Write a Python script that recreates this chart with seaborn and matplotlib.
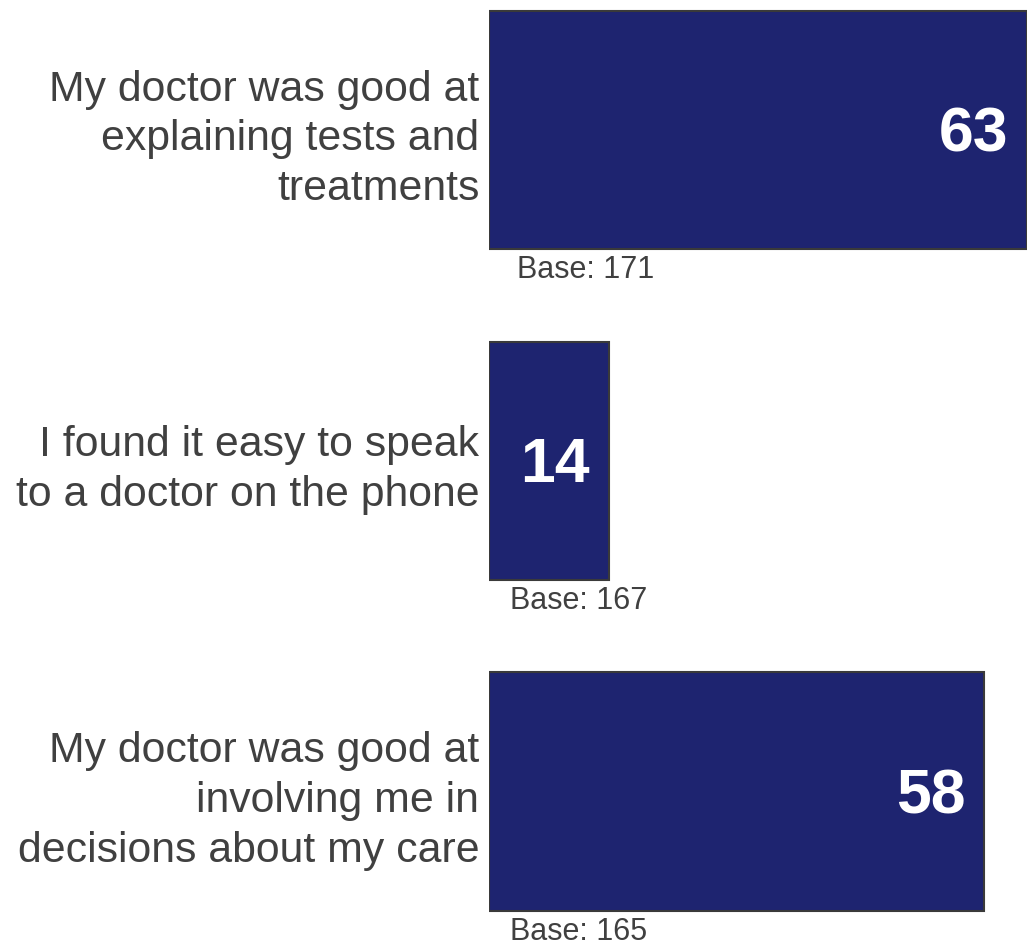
import matplotlib
matplotlib.use("Agg")
import matplotlib.pyplot as plt
import seaborn as sns
import pandas as pd

categories = [
    "My doctor was good at\nexplaining tests and\ntreatments",
    "I found it easy to speak\nto a doctor on the phone",
    "My doctor was good at\ninvolving me in\ndecisions about my care",
]
values = [63, 14, 58]
bases = ["Base: 171", "Base: 167", "Base: 165"]

sns.set_style("white")
plt.rcParams["font.family"] = ["Liberation Sans", "DejaVu Sans"]

df = pd.DataFrame({"category": categories, "value": values})

fig = plt.figure(figsize=(10.29, 9.46), dpi=100)
ax = fig.add_axes([489 / 1029, 0, (1027 - 489) / 1029, 1])

sns.barplot(data=df, y="category", x="value", orient="h", color="#1e2470",
            saturation=1, edgecolor="#3a3a3a", linewidth=1.5, width=0.72, ax=ax)

ax.set_xlim(0, 63)
ax.set_ylim(2.467, -0.393)
ax.set_xlabel("")
ax.set_ylabel("")
ax.set_xticks([])
for s in ax.spines.values():
    s.set_visible(False)
ax.tick_params(axis="y", length=0, pad=7)
for lab in ax.get_yticklabels():
    lab.set_fontsize(30.8)
    lab.set_color("#404040")
    lab.set_linespacing(1.32)

base_dx = [28, 21, 21]
for i, (v, b) in enumerate(zip(values, bases)):
    ax.annotate(str(v), xy=(v, i), xytext=(-19, -5), textcoords="offset pixels",
                ha="right", va="center", fontsize=45, fontweight="bold", color="white")
    ax.annotate(b, xy=(0, i + 0.36), xytext=(base_dx[i], -21), textcoords="offset pixels",
                ha="left", va="center", fontsize=22, color="#404040", annotation_clip=False)

fig.savefig("out.png", dpi=100)
